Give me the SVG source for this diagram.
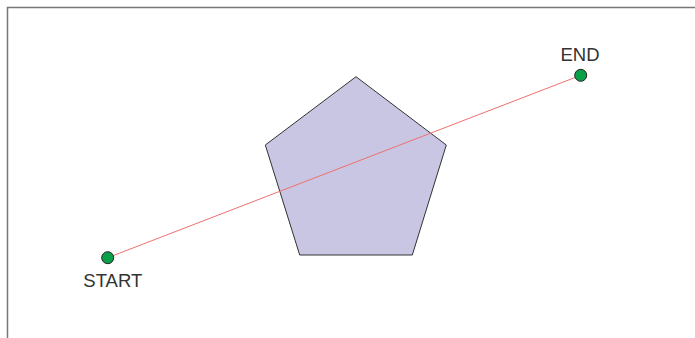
<svg xmlns="http://www.w3.org/2000/svg" width="695" height="338" viewBox="0 0 695 338">
<style>
.pt{fill:#0aa04a;stroke:#222;stroke-width:1}
.lbl{font-family:"Liberation Sans",Arial,sans-serif;font-size:18.5px;fill:#333;text-anchor:middle}
</style>
<rect width="695" height="338" fill="#fff"/>
<path d="M7.5 338V7.5H695" fill="none" stroke="#777" stroke-width="1.5"/>
<g id="pentagon"><polygon points="356,76.7 446.3,145 412.3,255 299.7,255 265.3,145" fill="#c8c6e2" stroke="#333" stroke-width="1"/></g>
<g id="connectors"><line x1="107.7" y1="257.7" x2="580.7" y2="75.3" stroke="#f07070" stroke-width="1"/></g>
<g id="start"><circle class="pt" cx="107.7" cy="257.7" r="6"/><text class="lbl" x="112.8" y="287">START</text></g>
<g id="end"><circle class="pt" cx="580.7" cy="75.3" r="6"/><text class="lbl" x="580" y="61">END</text></g>
</svg>
